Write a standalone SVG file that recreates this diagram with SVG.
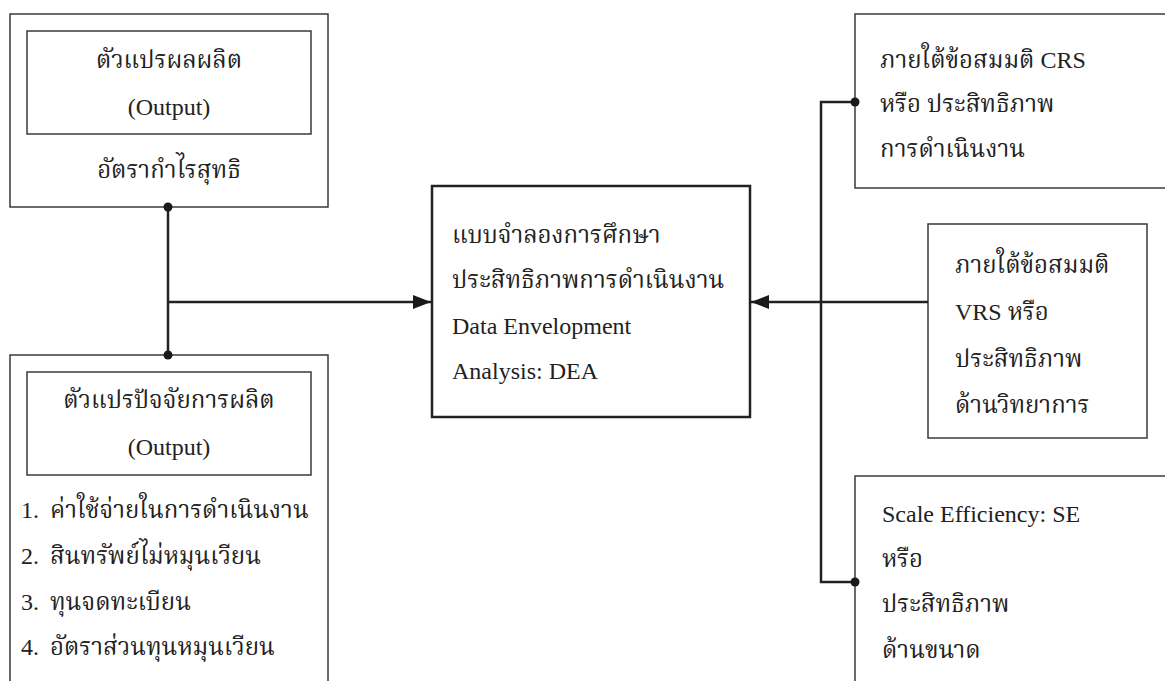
<svg xmlns="http://www.w3.org/2000/svg" width="1165" height="681" viewBox="0 0 1165 681">
<defs>
<style>
.box{fill:#fff;stroke:#3a3a3a;stroke-width:1.5}
.main{fill:#fff;stroke:#222;stroke-width:2.5}
.ln{fill:none;stroke:#222;stroke-width:2.5}
.dot{fill:#1a1a1a}
text{font-family:"Liberation Serif","Noto Serif Thai","Noto Sans Thai",serif;font-size:24px;fill:#222}
.c{text-anchor:middle}
</style>
<marker id="ah" viewBox="0 0 18 14" refX="18" refY="7" markerWidth="18" markerHeight="14" markerUnits="userSpaceOnUse" orient="auto">
<path d="M0,0 L18,7 L0,14 Z" fill="#1a1a1a"/>
</marker>
</defs>
<g id="output-box">
<rect class="box" x="10" y="14" width="318" height="193"/>
<rect class="box" x="27" y="31" width="284" height="103"/>
<text class="c" x="169" y="68">ตัวแปรผลผลิต</text>
<text class="c" x="169" y="115">(Output)</text>
<text class="c" x="169" y="178">อัตรากำไรสุทธิ</text>
</g>
<g id="input-box">
<rect class="box" x="10" y="355" width="318" height="340"/>
<rect class="box" x="27" y="372" width="284" height="103"/>
<text class="c" x="169" y="408">ตัวแปรปัจจัยการผลิต</text>
<text class="c" x="169" y="455">(Output)</text>
<text x="21" y="518">1.</text><text x="50" y="518">ค่าใช้จ่ายในการดำเนินงาน</text>
<text x="21" y="564">2.</text><text x="50" y="564">สินทรัพย์ไม่หมุนเวียน</text>
<text x="21" y="610">3.</text><text x="50" y="610">ทุนจดทะเบียน</text>
<text x="21" y="655">4.</text><text x="50" y="655">อัตราส่วนทุนหมุนเวียน</text>
</g>
<g id="dea-box">
<rect class="main" x="432" y="186" width="318" height="231"/>
<text x="452" y="243">แบบจำลองการศึกษา</text>
<text x="452" y="288">ประสิทธิภาพการดำเนินงาน</text>
<text x="452" y="334">Data Envelopment</text>
<text x="452" y="379">Analysis: DEA</text>
</g>
<g id="crs-box">
<rect class="box" x="855" y="14" width="330" height="174"/>
<text x="880" y="68">ภายใต้ข้อสมมติ CRS</text>
<text x="880" y="112">หรือ ประสิทธิภาพ</text>
<text x="880" y="157">การดำเนินงาน</text>
</g>
<g id="vrs-box">
<rect class="box" x="928" y="224" width="219" height="214"/>
<text x="955" y="273">ภายใต้ข้อสมมติ</text>
<text x="955" y="320">VRS หรือ</text>
<text x="955" y="367">ประสิทธิภาพ</text>
<text x="955" y="413">ด้านวิทยาการ</text>
</g>
<g id="se-box">
<rect class="box" x="855" y="476" width="330" height="230"/>
<text x="882" y="522">Scale Efficiency: SE</text>
<text x="882" y="567">หรือ</text>
<text x="882" y="612">ประสิทธิภาพ</text>
<text x="882" y="658">ด้านขนาด</text>
</g>
<g id="connectors">
<path class="ln" d="M168,207 V355"/>
<path class="ln" d="M168,302 H431" marker-end="url(#ah)"/>
<path class="ln" d="M928,302 H751" marker-end="url(#ah)"/>
<path class="ln" d="M855,102 H821 V582 H855"/>
<circle class="dot" cx="168" cy="207" r="4.5"/>
<circle class="dot" cx="168" cy="355" r="4.5"/>
<circle class="dot" cx="855" cy="102" r="4.5"/>
<circle class="dot" cx="855" cy="582" r="4.5"/>
</g>
</svg>
